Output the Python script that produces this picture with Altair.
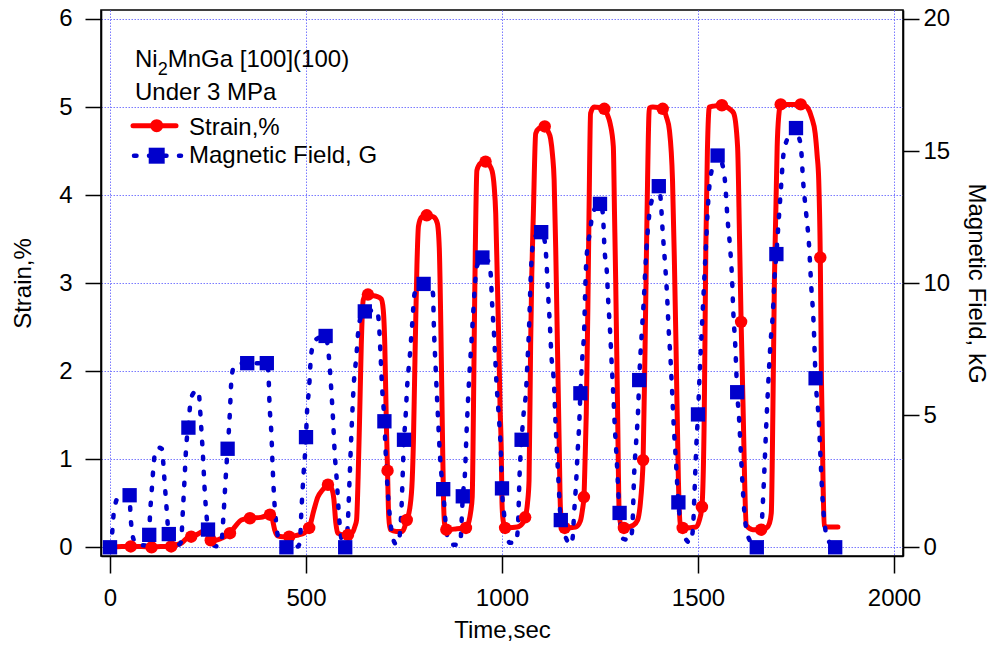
import altair as alt
import pandas as pd

# ---------------- data ----------------
# Strain, % (red line), time in seconds
strain_time = [
    0, 30, 53, 80, 106, 130, 156, 170, 183, 195, 207, 220, 235, 245, 251, 257, 270, 283, 306, 320,
    335, 357, 385, 408, 414, 420, 428, 440, 457, 480, 495, 508, 520, 530, 542, 556, 566, 571, 576, 581,
    595, 607, 620,
    625, 629, 633, 637, 641, 646, 652, 658, 668, 680, 692, 697, 701, 705, 708, 711, 715, 730, 745, 757,
    765, 771, 774, 777, 780, 783, 787, 795, 808, 826, 835, 840, 844, 848, 851, 854, 858, 885, 908,
    916, 920, 924, 926, 928, 930, 932, 936, 945, 958, 968, 975, 980, 984, 988, 992, 995, 998, 1000, 1003, 1008,
    1039, 1052, 1060, 1065, 1069, 1073, 1076, 1080, 1086, 1095, 1109, 1118, 1124, 1129, 1133, 1137, 1140, 1143,
    1146, 1149, 1153, 1160, 1188, 1200,
    1205, 1209, 1212, 1215, 1219, 1222, 1226, 1235, 1261, 1270, 1276, 1284, 1287, 1290, 1295, 1299, 1305, 1311, 1335,
    1346, 1353, 1357, 1360, 1365, 1370, 1376, 1385, 1410, 1420, 1427, 1435, 1440, 1444, 1450, 1455, 1465, 1495,
    1503, 1510, 1516, 1520, 1524, 1529, 1540, 1561, 1580, 1591, 1601, 1606, 1610, 1615, 1619, 1623, 1640, 1661,
    1675, 1682, 1687, 1691, 1695, 1699, 1702, 1706, 1711, 1740, 1762, 1772, 1780, 1790, 1799, 1804, 1808, 1812,
    1815, 1819, 1822, 1830, 1857,
]
strain_pct = [
    0, 0.01, 0.01, 0.01, 0.0, 0.01, 0.01, 0.03, 0.05, 0.1, 0.12, 0.14, 0.18, 0.2, 0.15, 0.08, 0.08, 0.1, 0.16, 0.24,
    0.31, 0.33, 0.34, 0.37, 0.32, 0.2, 0.13, 0.12, 0.12, 0.14, 0.16, 0.22, 0.42, 0.57, 0.65, 0.71, 0.66, 0.55, 0.28, 0.16,
    0.14, 0.14, 0.18,
    0.24, 0.31, 0.8, 1.52, 2.3, 2.81, 2.86, 2.87, 2.86, 2.85, 2.82, 2.7, 2.3, 1.4, 0.87, 0.35, 0.2, 0.18, 0.18, 0.31,
    0.45, 0.77, 1.2, 1.9, 2.6, 3.2, 3.65, 3.75, 3.77, 3.75, 3.68, 3.4, 2.5, 1.3, 0.5, 0.25, 0.2, 0.21, 0.22,
    0.3, 0.4, 0.57, 1.1, 1.9, 2.7, 3.41, 4.28, 4.36, 4.38, 4.34, 4.27, 4.1, 3.79, 3.05, 2.28, 1.6, 1.14, 0.5, 0.3, 0.22,
    0.23, 0.27, 0.35, 0.5, 0.76, 2.28, 3.1, 3.79, 4.7, 4.76, 4.78, 4.72, 4.64, 4.45, 4.17, 3.4, 2.66, 1.9,
    1.14, 0.45, 0.26, 0.22, 0.23, 0.3,
    0.42, 0.57, 1.0, 1.52, 2.7, 3.79, 4.93, 5.0, 4.98, 4.9, 4.81, 4.55, 3.8, 3.04, 1.52, 0.39, 0.23, 0.22, 0.25,
    0.31, 0.5, 0.72, 0.99, 2.28, 3.79, 4.99, 5.0, 4.98, 4.88, 4.74, 4.17, 3.2, 2.28, 0.76, 0.26, 0.22, 0.23,
    0.3, 0.46, 1.52, 3.41, 4.5, 5.0, 5.01, 5.02, 4.98, 4.93, 4.55, 3.5, 2.56, 1.6, 0.76, 0.25, 0.2, 0.2,
    0.22, 0.27, 0.39, 1.52, 3.04, 3.9, 4.55, 4.9, 5.03, 5.03, 5.03, 5.02, 4.99, 4.88, 4.7, 4.45, 4.17, 3.29,
    1.9, 0.76, 0.25, 0.23, 0.23,
]
# red circle markers
strain_mark_time = [2, 53, 106, 156, 207, 257, 306, 357, 408, 457, 508, 556, 607, 658, 708, 757, 808, 858, 908,
                    958, 1008, 1059, 1109, 1160, 1209, 1261, 1311, 1360, 1410, 1461, 1510, 1561, 1610, 1661,
                    1711, 1762, 1812]
strain_mark_pct = [0, 0.01, 0.0, 0.01, 0.12, 0.08, 0.16, 0.33, 0.37, 0.12, 0.22, 0.71, 0.14, 2.87, 0.87, 0.31,
                   3.77, 0.2, 0.22, 4.38, 0.22, 0.34, 4.78, 0.22, 0.57, 4.98, 0.22, 0.99, 4.98, 0.22, 0.46,
                   5.02, 2.56, 0.2, 5.03, 5.03, 3.29]

# Magnetic field, kG (blue dotted line)
field_time = [
    0, 3, 6, 9, 13, 18, 30, 50, 52, 55, 60, 68, 95,
    100, 102, 105, 108, 111, 117, 125, 132, 136, 139, 142, 145, 148, 150, 158, 175,
    181, 186, 190, 194, 199, 202, 206, 215, 226, 229, 232, 237, 241, 247, 250, 258, 275,
    284, 290, 295, 300, 303, 306, 309, 315, 330, 350, 400, 404, 407, 412, 415, 419, 424, 432, 450, 480,
    485, 488, 494, 500, 502, 508, 513, 522, 550, 555, 558, 564, 569, 573, 579, 584, 592, 600,
    606, 611, 616, 622, 629, 632, 637, 650, 681, 686, 690, 694, 700, 703, 707, 713, 722, 731,
    738, 743, 750, 754, 758, 765, 771, 777, 790, 800, 818, 824, 826, 831, 837, 841, 846, 850, 854, 862, 873,
    890, 894, 897, 900, 905, 910, 916, 921, 926, 931, 935, 942, 950, 965, 971, 975, 980, 986, 992, 997,
    1000, 1005, 1012, 1020,
    1035, 1038, 1041, 1045, 1050, 1056, 1061, 1065, 1069, 1073, 1078, 1088, 1100, 1108, 1113, 1117, 1122,
    1126, 1133, 1136, 1140, 1144, 1150, 1159, 1175,
    1180, 1184, 1189, 1193, 1197, 1200, 1205, 1210, 1212, 1215, 1225, 1231, 1250, 1257, 1262, 1267, 1271,
    1276, 1280, 1284, 1288, 1293, 1297, 1300, 1308, 1328,
    1333, 1337, 1342, 1347, 1350, 1357, 1362, 1366, 1371, 1380, 1400, 1405, 1410, 1416, 1421, 1425, 1430,
    1434, 1438, 1443, 1450, 1457, 1480,
    1487, 1491, 1496, 1500, 1505, 1509, 1513, 1517, 1521, 1525, 1532, 1550, 1562, 1570, 1575, 1582, 1587,
    1590, 1595, 1600, 1605, 1609, 1613, 1618, 1626, 1650,
    1660, 1665, 1669, 1674, 1678, 1685, 1691, 1695, 1700, 1706, 1712, 1718, 1727, 1735, 1750, 1758, 1763,
    1768, 1776, 1783, 1789, 1795, 1800, 1808, 1812, 1817, 1823, 1830, 1850,
]
field_kg = [
    0, 0.17, 0.63, 1.23, 1.6, 1.83, 1.97, 1.97, 1.3, 0.73, 0.3, 0.1, 0.07,
    0.47, 1.23, 1.87, 2.47, 3.1, 3.67, 3.77, 3.73, 3.17, 2.53, 1.93, 1.33, 0.73, 0.5, 0.17, 0.1,
    0.2, 1.43, 2.53, 3.73, 4.53, 5.0, 5.57, 5.87, 5.93, 5.4, 4.7, 3.5, 2.3, 1.07, 0.67, 0.2, 0.03,
    0.17, 1.33, 2.6, 3.73, 4.37, 5.17, 6.17, 6.8, 6.97, 6.97, 6.97, 6.6, 5.4, 4.2, 3.0, 1.8, 0.9, 0.2, 0.0, 0.03,
    0.33, 1.3, 2.83, 4.17, 4.93, 6.07, 7.27, 7.83, 8.0, 7.67, 7.27, 6.07, 4.83, 3.63, 2.43, 1.23, 0.2, 0.0,
    0.73, 2.53, 4.37, 6.2, 7.33, 7.97, 8.57, 8.93, 8.97, 8.47, 7.33, 6.07, 4.77, 3.67, 2.5, 1.3, 0.33, 0.1,
    0.33, 1.3, 4.07, 4.93, 6.07, 7.27, 8.47, 9.6, 9.9, 9.97, 9.83, 9.6, 8.47, 6.7, 4.83, 3.67, 2.67, 2.2, 1.3, 0.33, 0.1,
    0.1, 0.2, 1.0, 1.93, 2.67, 4.5, 6.33, 7.53, 8.73, 9.93, 10.57, 10.83, 10.97, 10.83, 10.37, 9.17, 7.97, 6.2, 4.93, 3.67,
    2.23, 1.3, 0.5, 0.17,
    0.17, 0.33, 0.9, 2.8, 4.07, 5.2, 5.83, 7.03, 8.3, 10.13, 11.37, 11.83, 11.93, 11.67, 10.93, 9.73, 8.47,
    7.27, 6.07, 4.9, 3.67, 2.53, 1.03, 0.53, 0.1,
    0.33, 1.3, 2.43, 3.63, 4.67, 5.83, 7.2, 8.4, 9.6, 10.8, 12.0, 12.63, 13.0, 12.67, 11.17, 10.53, 9.33,
    8.1, 6.9, 5.77, 4.5, 3.23, 2.03, 1.3, 0.33, 0.27,
    0.9, 2.73, 3.93, 5.13, 6.33, 8.23, 9.43, 10.63, 11.83, 13.0, 13.67, 13.13, 11.93, 10.73, 9.57, 8.3, 7.1,
    5.9, 4.63, 3.43, 1.7, 0.77, 0.17,
    0.67, 2.03, 3.93, 5.03, 6.83, 8.03, 9.23, 10.43, 11.63, 12.83, 14.03, 14.83, 14.5, 13.67, 12.5, 11.33, 10.13,
    8.93, 7.67, 5.87, 4.83, 3.67, 2.53, 1.4, 0.47, 0.0,
    0.33, 1.53, 2.8, 4.57, 5.83, 7.73, 8.87, 10.13, 11.1, 12.4, 13.67, 14.87, 15.43, 15.73, 15.87, 15.5, 15.1,
    13.9, 12.63, 11.5, 9.87, 8.47, 6.4, 4.83, 3.57, 2.03, 0.9, 0.33, 0.0,
]
# blue square markers
field_mark_time = [0, 50, 100, 150, 200, 250, 300, 350, 400, 450, 500, 550, 600, 650, 700, 750, 800, 850, 900,
                   950, 1000, 1050, 1100, 1150, 1200, 1250, 1300, 1350, 1400, 1450, 1500, 1550, 1600, 1650,
                   1700, 1750, 1800, 1850]
field_mark_kg = [0, 1.97, 0.47, 0.5, 4.53, 0.67, 3.73, 6.97, 6.97, 0.0, 4.17, 8.0, 0.0, 8.93, 4.77, 4.07, 9.97,
                 2.2, 1.93, 10.97, 2.23, 4.07, 11.93, 1.03, 5.83, 13.0, 1.3, 6.33, 13.67, 1.7, 5.03, 14.83,
                 5.87, 0.0, 11.1, 15.87, 6.4, 0.0]

x_ticks = [0, 500, 1000, 1500, 2000]
y_ticks = [0, 1, 2, 3, 4, 5, 6]
y2_ticks = [0, 5, 10, 15, 20]

assert len(strain_time) == len(strain_pct)
assert len(field_time) == len(field_kg)
assert len(strain_mark_time) == len(strain_mark_pct)
assert len(field_mark_time) == len(field_mark_kg)

strain_df = pd.DataFrame({"t": strain_time, "v": strain_pct})
strain_mk = pd.DataFrame({"t": strain_mark_time, "v": strain_mark_pct})
field_df = pd.DataFrame({"t": field_time, "v": field_kg})
field_mk = pd.DataFrame({"t": field_mark_time, "v": field_mark_kg})

# ---------------- styling ----------------
RED = "#ff0000"
BLUE = "#0000cc"
GRID = "#7a7aff"
FONT = "Liberation Sans"
FS = 24
W, H = 802, 546

xs = alt.Scale(domain=[-23, 2023], nice=False, zero=False)
ys = alt.Scale(domain=[-0.099, 6.102], nice=False, zero=False)
y2s = alt.Scale(domain=[-0.33, 20.34], nice=False, zero=False)

common = dict(domainColor="black", domainWidth=1.6, tickColor="black", tickWidth=1.5,
              labelFont=FONT, labelFontSize=FS, labelColor="black",
              titleFont=FONT, titleFontSize=FS, titleFontWeight="normal", titleColor="black",
              labelOverlap=False, labelFlush=False, format="d", titleBaseline="alphabetic")

x_axis = alt.Axis(values=x_ticks, title="Time,sec", grid=True, gridColor=GRID, gridDash=[1.5, 1.5],
                  gridWidth=1, tickSize=17, labelPadding=13, titleX=W / 2, titleY=81, **common)
y_axis = alt.Axis(values=y_ticks, title="Strain,%", orient="left", grid=True, gridColor=GRID,
                  gridDash=[1.5, 1.5], gridWidth=1, tickSize=16, labelPadding=13,
                  titleX=-71, titleY=H / 2, titleAngle=270, **common)
y2_axis = alt.Axis(values=y2_ticks, title="Magnetic Field, kG", orient="right", grid=False,
                   tickSize=16, labelPadding=4, titleX=65, titleY=H / 2, titleAngle=90, **common)

X = alt.X("t:Q", scale=xs, axis=x_axis)

red_line = alt.Chart(strain_df).mark_line(
    color=RED, strokeWidth=5, interpolate="monotone", strokeJoin="round", strokeCap="round"
).encode(x=X, y=alt.Y("v:Q", scale=ys, axis=y_axis))

blue_line = alt.Chart(field_df).mark_line(
    color=BLUE, strokeWidth=4.5, interpolate="monotone", strokeDash=[2.5, 12.5], strokeCap="round"
).encode(x=X, y=alt.Y("v:Q", scale=y2s, axis=y2_axis))

red_pts = alt.Chart(strain_mk).mark_point(
    shape="circle", filled=True, color=RED, size=155, opacity=1
).encode(x=X, y=alt.Y("v:Q", scale=ys, axis=None))

blue_pts = alt.Chart(field_mk).mark_point(
    shape="square", filled=True, color=BLUE, size=205, opacity=1
).encode(x=X, y=alt.Y("v:Q", scale=y2s, axis=None))

one = alt.Data(values=[{"a": 1}])


def txt(s, x, y, size=FS):
    return alt.Chart(one).mark_text(
        text=s, font=FONT, fontSize=size, color="black", align="left", baseline="alphabetic"
    ).encode(x=alt.value(x), y=alt.value(y))


annot = [
    txt("Ni", 34, 57),
    txt("2", 56.7, 65, 18),
    txt("MnGa [100](100)", 66.7, 57),
    txt("Under 3 MPa", 34, 90),
    txt("Strain,%", 88, 125),
    txt("Magnetic Field, G", 88, 153),
]

leg_red_line = alt.Chart(one).mark_rule(color=RED, strokeWidth=5, strokeCap="round").encode(
    x=alt.value(32), x2=alt.value(75), y=alt.value(115.7))
leg_red_pt = alt.Chart(one).mark_point(shape="circle", filled=True, color=RED, size=170, opacity=1).encode(
    x=alt.value(55.7), y=alt.value(115.7))
leg_blue_line = alt.Chart(one).mark_rule(color=BLUE, strokeWidth=4.5, strokeCap="round", strokeDash=[2.5, 12.5]).encode(
    x=alt.value(33), x2=alt.value(80), y=alt.value(145.7))
leg_blue_pt = alt.Chart(one).mark_point(shape="square", filled=True, color=BLUE, size=256, opacity=1).encode(
    x=alt.value(55.7), y=alt.value(145.7))

chart = alt.layer(
    red_line, blue_line, red_pts, blue_pts,
    leg_red_line, leg_red_pt, leg_blue_line, leg_blue_pt, *annot
).resolve_scale(y="independent").properties(
    width=W, height=H, autosize=alt.AutoSizeParams(type="none"),
    padding={"left": 101, "top": 10, "right": 89, "bottom": 92},
).configure(font=FONT, background="white").configure_view(stroke="black", strokeWidth=1.6)

chart.save("out.html", embed_options={"renderer": "svg", "actions": False})
